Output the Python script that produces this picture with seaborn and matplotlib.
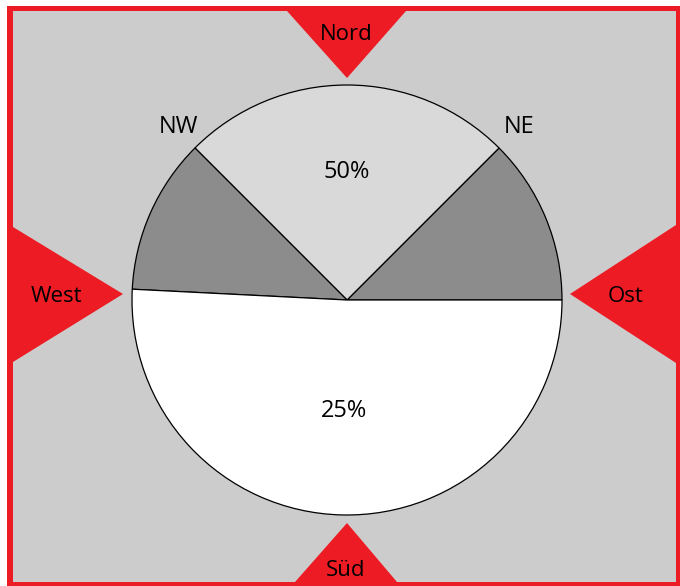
import matplotlib
matplotlib.use("Agg")
import matplotlib.pyplot as plt
from matplotlib.patches import Polygon, Rectangle
import seaborn as sns
import numpy as np

# ---- data ----
sectors = ["NE", "N", "NW", "S"]
shares = [12.5, 25.0, 11.7, 50.8]          # share of wind direction (drawn sizes)
inner_labels = ["", "50%", "", "25%"]       # labels printed inside the slices
outer_labels = ["NE", "", "NW", ""]         # labels printed outside the slices
sector_colors = ["#8c8c8c", "#d9d9d9", "#8c8c8c", "#ffffff"]
compass = ["Nord", "Ost", "Süd", "West"]

sns.set_theme(style="white")
plt.rcParams["font.family"] = ["Open Sans", "DejaVu Sans"]

W, H = 680, 586
fig = plt.figure(figsize=(W / 100, H / 100), dpi=100)
fig.patch.set_facecolor("white")

# background / frame axes in pixel coordinates
bg = fig.add_axes([0, 0, 1, 1])
bg.set_xlim(0, W)
bg.set_ylim(H, 0)
bg.axis("off")
red = "#ed1c24"
bg.add_patch(Rectangle((7, 6), W - 7, H - 6, facecolor=red, edgecolor="none"))
bg.add_patch(Rectangle((13, 11), 663, 571, facecolor="#cccccc", edgecolor="none"))

tri = {
    "Nord": ([(287, 11), (406, 11), (347, 78)], (346, 34)),
    "Ost": ([(676, 225), (676, 363), (570, 294)], (626, 297)),
    "Süd": ([(295, 582), (397, 582), (347, 523)], (346, 571)),
    "West": ([(13, 227), (13, 362), (123, 294)], (56, 297)),
}
for name in compass:
    pts, (tx, ty) = tri[name]
    bg.add_patch(Polygon(pts, closed=True, facecolor=red, edgecolor="none"))
    bg.text(tx, ty, name, ha="center", va="center", fontsize=16, color="black")

# pie axes: center (347,300), radius 215 px
cx, cy, r = 347, 300, 215
ax = fig.add_axes([(cx - r) / W, (H - cy - r) / H, 2 * r / W, 2 * r / H])
ax.patch.set_alpha(0)
wedges, _ = ax.pie(shares, colors=sector_colors, startangle=0, counterclock=True,
                   wedgeprops=dict(edgecolor="black", linewidth=0.9))
ax.set_xlim(-1, 1)
ax.set_ylim(-1, 1)
ax.set_aspect("equal")
ax.axis("off")

# inner labels at slice mid-angles
cum = np.cumsum([0] + shares)
tot = sum(shares)
inner_dist = {"50%": 0.595, "25%": 0.515}
for i, lab in enumerate(inner_labels):
    if lab:
        mid = np.deg2rad((cum[i] + cum[i + 1]) / 2 / tot * 360)
        d = inner_dist[lab]
        ax.text(d * np.cos(mid), d * np.sin(mid), lab, ha="center", va="center",
                fontsize=17, color="black")

# outer labels above the slice boundaries facing north
outer_pos = {"NE": (0.80, 0.805), "NW": (-0.786, 0.805)}
for i, lab in enumerate(outer_labels):
    if lab:
        x, y = outer_pos[lab]
        ax.text(x, y, lab, ha="center", va="center",
                fontsize=17, color="black", clip_on=False)

fig.savefig("out.png", dpi=100)
